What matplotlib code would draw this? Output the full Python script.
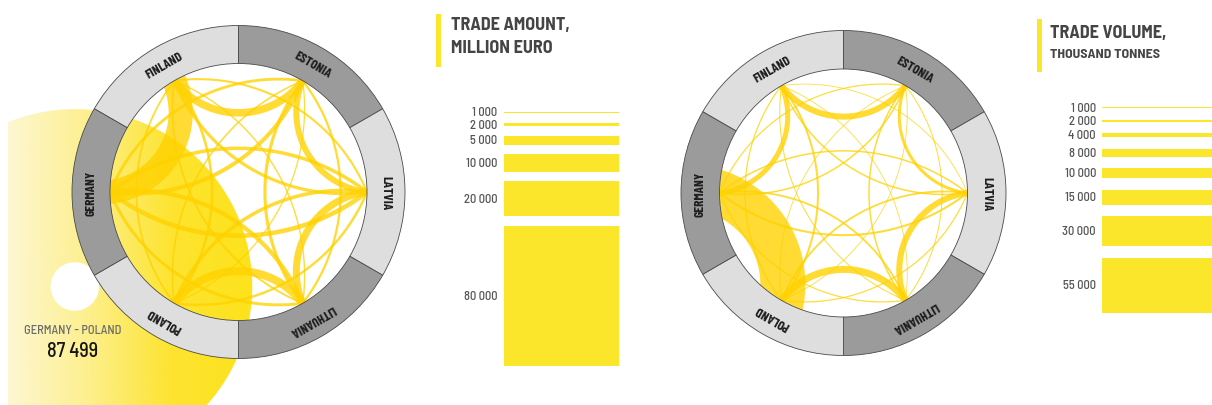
import numpy as np
import matplotlib.pyplot as plt
from matplotlib.patches import Wedge, Circle
from matplotlib.colors import LinearSegmentedColormap

W, H = 1212, 406

countries = ["Finland", "Estonia", "Latvia", "Lithuania", "Poland", "Germany"]
ring_angle = [120, 60, 0, -60, -120, 180]

pairs = [("Finland", "Estonia"), ("Estonia", "Latvia"), ("Latvia", "Lithuania"),
         ("Lithuania", "Poland"), ("Poland", "Germany"), ("Germany", "Finland"),
         ("Finland", "Latvia"), ("Finland", "Lithuania"), ("Finland", "Poland"),
         ("Estonia", "Lithuania"), ("Estonia", "Poland"), ("Estonia", "Germany"),
         ("Latvia", "Poland"), ("Latvia", "Germany"), ("Lithuania", "Germany")]

# trade amount, million euro (first -> second, second -> first)
euro_ab = [2600, 2000, 2200, 2600, 48700, 8200, 1800, 1100, 1500, 1800, 900, 2300, 2000, 2600, 2400]
euro_ba = [1700, 1400, 1800, 2000, 38799, 5600, 1200, 800, 1000, 1300, 700, 1600, 1400, 2000, 1700]

# trade volume, thousand tonnes
tonnes_ab = [3500, 1800, 3500, 4000, 24000, 3000, 1500, 1000, 2000, 1500, 700, 1500, 1800, 2000, 1800]
tonnes_ba = [2500, 1200, 2500, 3000, 21000, 2000, 800, 600, 1200, 1000, 500, 1200, 1200, 1500, 1200]

euro_legend = [1000, 2000, 5000, 10000, 20000, 80000]
tonnes_legend = [1000, 2000, 4000, 8000, 10000, 15000, 30000, 55000]

highlight = ("Poland", "Germany")

CHORD = "#FFD200"
BAR = "#FCE62C"
DARK_SEG = "#9b9b9b"
LIGHT_SEG = "#dedede"
FONT = ["Barlow Semi Condensed", "Roboto Condensed", "Archivo Narrow", "DejaVu Sans"]
LABEL_FONT = ["Barlow Condensed", "Roboto Condensed", "Archivo Narrow", "DejaVu Sans"]


def fmt(v):
    return f"{v:,}".replace(",", " ")


def arc(p, q, s, ext):
    m = (p + q) / 2
    u = q - p
    L = np.hypot(*u)
    n = np.array([-u[1], u[0]]) / L
    if np.dot(n, -m) < 0:
        n = -n
    h = s * L
    r = (L * L / 4 + h * h) / (2 * abs(h))
    c = m + (h - np.sign(h) * r) * n
    apex = m + h * n
    a0 = np.arctan2(*(p - c)[::-1])
    a1 = np.arctan2(*(q - c)[::-1])
    ap = np.arctan2(*(apex - c)[::-1])
    d1 = (a1 - a0) % (2 * np.pi)
    dp = (ap - a0) % (2 * np.pi)
    span = d1 if dp < d1 else d1 - 2 * np.pi
    e = min(ext / r, (2 * np.pi - abs(span)) / 2 - 0.02)
    sg = np.sign(span)
    t = np.linspace(a0 - sg * e, a0 + span + sg * e, 200)
    return c, r, c[0] + r * np.cos(t), c[1] + r * np.sin(t)


def draw_chart(ax, cx, cy, r_in, r_out, v_ab, v_ba, scale, show_highlight):
    centre = np.array([cx, cy])
    pos = {}
    for name, a in zip(countries, ring_angle):
        t = np.radians(a)
        pos[name] = np.array([r_in * np.cos(t), r_in * np.sin(t)])
    clip = Circle((cx, cy), r_in, transform=ax.transData)

    for (a, b), f1, f2 in zip(pairs, v_ab, v_ba):
        ia, ib = countries.index(a), countries.index(b)
        adjacent = abs(ia - ib) in (1, 5)
        if adjacent:
            bend = 0.18 if (a, b) == highlight else 0.25
            w = (f1 + f2) * scale
            c, r, x, y = arc(pos[a], pos[b], bend, w + 8)
            if (a, b) == highlight and show_highlight:
                # highlighted pair drawn as a full gradient band
                cc = c + centre
                ring = Wedge(tuple(cc), r + w / 2, 0, 360, width=w,
                             transform=ax.transData)
                cmap = LinearSegmentedColormap.from_list(
                    "hl", ["#fdf7d2", "#fdef8c", "#fde430", "#fde21c"])
                grad = np.linspace(0, 1, 256).reshape(1, -1)
                im = ax.imshow(grad, cmap=cmap, aspect="auto", zorder=1,
                               extent=[8, cc[0] + r + w / 2, 0, cc[1] + r + w / 2])
                im.set_clip_path(ring)
                ax.text(73, 75, f"{b.upper()} - {a.upper()}", ha="center", va="center",
                        fontsize=9, fontweight="medium", color="#6b6b6b",
                        family=FONT, zorder=6)
                ax.text(73, 54, fmt(f1 + f2), ha="center", va="center",
                        fontsize=14.5, fontweight="medium", color="#151515",
                        family=FONT, zorder=6)
                continue
            ln, = ax.plot(x + cx, y + cy, color=CHORD, lw=w * 0.72, alpha=0.8,
                          solid_capstyle="butt", zorder=2)
            ln.set_clip_path(clip)
        else:
            for f, bend in ((f1, 0.17), (f2, -0.17)):
                w = max(f * scale, 0.8)
                c, r, x, y = arc(pos[a], pos[b], bend, w + 8)
                ln, = ax.plot(x + cx, y + cy, color=CHORD, lw=w * 0.72, alpha=0.78,
                              solid_capstyle="butt", zorder=2)
                ln.set_clip_path(clip)

    for i, (name, a) in enumerate(zip(countries, ring_angle)):
        col = LIGHT_SEG if i % 2 == 0 else DARK_SEG
        ax.add_patch(Wedge((cx, cy), r_out, a - 30, a + 30, width=r_out - r_in,
                           facecolor=col, edgecolor="#4a4a4a", lw=0.6, zorder=3))
        t = np.radians(a)
        rm = (r_in + r_out) / 2
        ax.text(cx + rm * np.cos(t), cy + rm * np.sin(t), name.upper(),
                rotation=a - 90, rotation_mode="anchor", ha="center", va="center",
                fontsize=9.5, fontweight="bold", color="#1e1e1e",
                family=LABEL_FONT, zorder=4)


def draw_legend(ax, x0, length, top, gap, values, scale, label_x):
    heights = [max(v * scale, 1.2) for v in values]
    y = top
    centres = []
    for h in heights:
        centres.append(y - h / 2)
        y -= h + gap
    ax.barh(centres, [length] * len(values), height=heights, left=x0,
            color=BAR, zorder=2)
    for c, v in zip(centres, values):
        ax.text(label_x, c, fmt(v), ha="right", va="center", fontsize=9,
                fontweight="medium", color="#555555", family=FONT)


fig = plt.figure(figsize=(W / 100, H / 100), dpi=100)
ax = fig.add_axes([0, 0, 1, 1])
ax.set_xlim(0, W)
ax.set_ylim(0, H)
ax.set_aspect("equal")
ax.axis("off")

draw_chart(ax, 238.5, 213, 128.5, 166.5, euro_ab, euro_ba, 1.75 / 1000, True)
draw_chart(ax, 843.5, 212, 124, 162.5, tonnes_ab, tonnes_ba, 1.0 / 1000, False)

# legend: trade amount
ax.barh(H - 41.5, 5, height=53, left=436, color=BAR)
ax.text(451, H - 25.5, "TRADE AMOUNT,", fontsize=13, fontweight="bold",
        color="#454545", va="center", family=FONT)
ax.text(451, H - 48.5, "MILLION EURO", fontsize=13, fontweight="bold",
        color="#454545", va="center", family=FONT)
draw_legend(ax, 504, 115, H - 112.6, 9.5, euro_legend, 1.75 / 1000, 497)

# legend: trade volume
ax.barh(H - 46.5, 5, height=53, left=1037, color=BAR)
ax.text(1050, H - 33, "TRADE VOLUME,", fontsize=13, fontweight="bold",
        color="#454545", va="center", family=FONT)
ax.text(1050, H - 55, "THOUSAND TONNES", fontsize=10, fontweight="bold",
        color="#454545", va="center", family=FONT)
draw_legend(ax, 1102, 110, H - 108, 11.5, tonnes_legend, 1.0 / 1000, 1096)

fig.savefig("out.png", dpi=100, facecolor="white")
